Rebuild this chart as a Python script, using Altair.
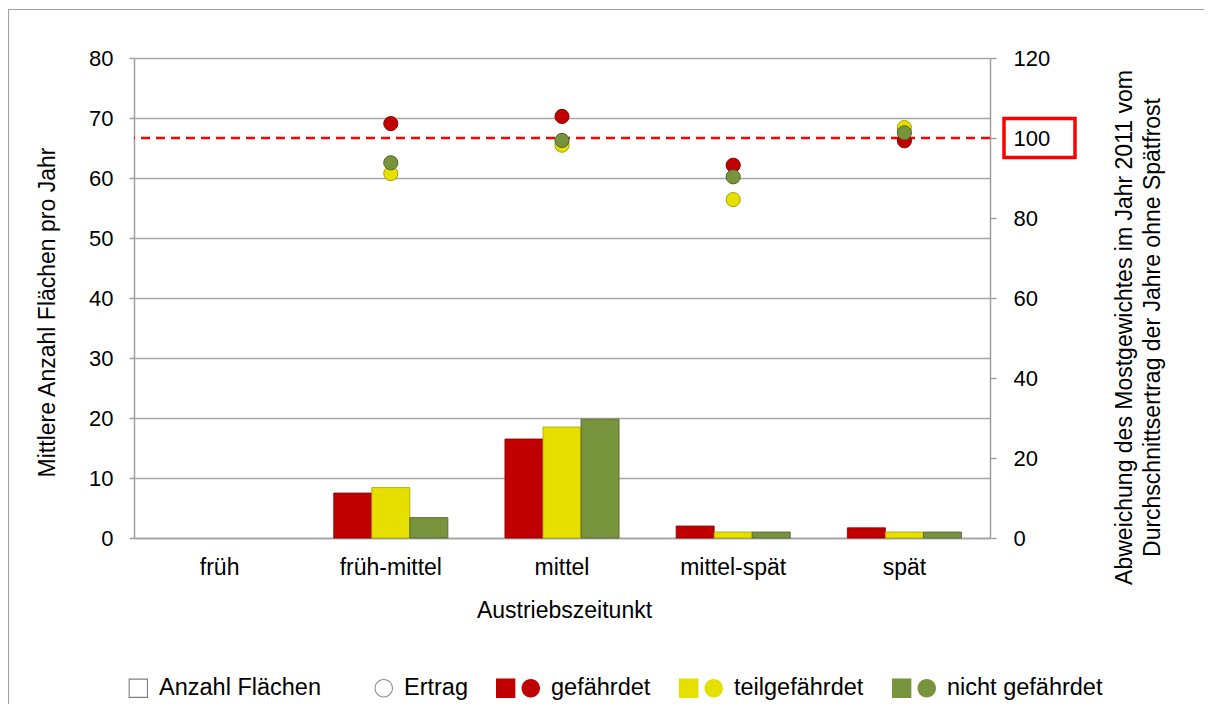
import altair as alt
import pandas as pd

# ---------------- data ----------------
kategorien = ["früh", "früh-mittel", "mittel", "mittel-spät", "spät"]
gruppen = ["gefährdet", "teilgefährdet", "nicht gefährdet"]

# Mittlere Anzahl Flächen pro Jahr (bars, left axis)
bar_kategorie = ["früh-mittel", "früh-mittel", "früh-mittel",
                 "mittel", "mittel", "mittel",
                 "mittel-spät", "mittel-spät", "mittel-spät",
                 "spät", "spät", "spät"]
bar_gruppe = ["gefährdet", "teilgefährdet", "nicht gefährdet"] * 4
bar_anzahl = [7.5, 8.4, 3.4,
              16.5, 18.5, 19.8,
              2.0, 1.0, 1.0,
              1.7, 1.0, 1.0]

# Ertrag / Mostgewicht (points, right axis) - drawn red, yellow, green
pt_kategorie = ["früh-mittel", "mittel", "mittel-spät", "spät"] * 3
pt_gruppe = (["gefährdet"] * 4) + (["teilgefährdet"] * 4) + (["nicht gefährdet"] * 4)
pt_wert = [103.6, 105.4, 93.2, 99.3,
           91.1, 98.2, 84.6, 102.6,
           93.8, 99.4, 90.3, 101.3]

referenz = [100]

legend_eintraege = ["Anzahl Flächen", "Ertrag", "gefährdet", "teilgefährdet", "nicht gefährdet"]

right_title = ["Abweichung des Mostgewichtes im Jahr 2011 vom",
               "Durchschnittsertrag der Jahre ohne Spätfrost"]

# ---------------- styles ----------------
FONT = "Liberation Sans"
GRAY = "#A0A0A0"
fill_colors = ["#C00000", "#E6E000", "#77933C"]
stroke_colors = ["#8B0000", "#A8A000", "#4F6228"]

# outline-only symbols drawn as filled rings (outer path + reversed inner path)
SQ_RING = ("M0.12,-0.44L1,-0.44L1,0.44L0.12,0.44Z"
           "M0.17,-0.39L0.17,0.39L0.95,0.39L0.95,-0.39Z")
CI_RING = ("M0.16,0A0.42,0.42 0 1,0 1,0A0.42,0.42 0 1,0 0.16,0Z"
           "M0.21,0A0.37,0.37 0 1,1 0.95,0A0.37,0.37 0 1,1 0.21,0Z")
COMBO = ("M-1,-0.44L-0.12,-0.44L-0.12,0.44L-1,0.44Z"
         "M0.16,0A0.42,0.42 0 1,0 1,0A0.42,0.42 0 1,0 0.16,0Z")
legend_shapes = [SQ_RING, CI_RING, COMBO, COMBO, COMBO]
legend_fills = ["#7F7F7F", "#8C8C8C"] + fill_colors

BOX = "M-1,-0.55L1,-0.55L1,0.55L-1,0.55Z"

W, H = 856, 480
PAD_R, PAD_B = 214, 166

bars_df = pd.DataFrame({"Kategorie": bar_kategorie, "Gruppe": bar_gruppe, "Anzahl": bar_anzahl})
pts_df = pd.DataFrame({"Kategorie": pt_kategorie, "Gruppe": pt_gruppe, "Wert": pt_wert})
ref_df = pd.DataFrame({"Wert": referenz})
leg_df = pd.DataFrame({"Eintrag": legend_eintraege})
frame_df = pd.DataFrame({"r": [0]})

x_scale = alt.Scale(domain=kategorien, paddingInner=1 / 3, paddingOuter=1 / 6)
y_right_scale = alt.Scale(domain=[0, 120])
fill_enc = alt.Fill("Gruppe:N", scale=alt.Scale(domain=gruppen, range=fill_colors), legend=None)
stroke_enc = alt.Stroke("Gruppe:N", scale=alt.Scale(domain=gruppen, range=stroke_colors), legend=None)

x_axis = alt.Axis(title="Austriebszeitunkt", labelAngle=0, ticks=False, tickSize=0,
                  labelPadding=18, labelBaseline="top", labelFontSize=23, labelFont=FONT,
                  labelColor="#000000", titleFontSize=23, titleFont=FONT, titleColor="#000000",
                  titleFontWeight="normal", titleX=430, titleY=72, titleAlign="center",
                  titleBaseline="middle", domainColor=GRAY, domainWidth=1.5, grid=False)

left_axis = alt.Axis(values=list(range(0, 81, 10)), orient="left", tickSize=5, tickColor=GRAY,
                     tickWidth=1.5, labelPadding=16, labelFontSize=22, labelFont=FONT,
                     labelColor="#000000", grid=True, gridColor="#A6A6A6", gridWidth=1.5,
                     domainColor=GRAY, domainWidth=1.5,
                     title="Mittlere Anzahl Flächen pro Jahr", titleFontSize=23, titleFont=FONT,
                     titleColor="#000000", titleFontWeight="normal", titleAngle=270,
                     titleX=-87, titleY=254, titleAlign="center", titleBaseline="middle")

right_axis = alt.Axis(values=list(range(0, 121, 20)), orient="right", tickSize=6, tickColor=GRAY,
                      tickWidth=1.5, labelPadding=17, labelFontSize=22, labelFont=FONT,
                      labelColor="#000000", grid=False, domainColor=GRAY, domainWidth=1.5,
                      title=right_title, titleFontSize=23, titleFont=FONT, titleColor="#000000",
                      titleFontWeight="normal", titleAngle=270, titleX=134, titleY=269,
                      titleAlign="center", titleBaseline="middle", titleLineHeight=28)

# chart-area frame (only left and top edges are visible in the picture)
frame_top = alt.Chart(frame_df).mark_rule(color=GRAY, strokeWidth=1.2).encode(
    x=alt.value(-125.5), x2=alt.value(W + PAD_R), y=alt.value(-48.5)
)
frame_left = alt.Chart(frame_df).mark_rule(color=GRAY, strokeWidth=1.2).encode(
    x=alt.value(-125.5), y=alt.value(-48.5), y2=alt.value(H + PAD_B)
)

bars = alt.Chart(bars_df).mark_bar(strokeWidth=0.8).encode(
    x=alt.X("Kategorie:N", scale=x_scale, axis=x_axis),
    xOffset=alt.XOffset("Gruppe:N", scale=alt.Scale(domain=gruppen, paddingInner=0, paddingOuter=0)),
    y=alt.Y("Anzahl:Q", scale=alt.Scale(domain=[0, 80]), axis=left_axis),
    fill=fill_enc,
    stroke=stroke_enc,
)

rule = alt.Chart(ref_df).mark_rule(color="#FF0000", strokeWidth=2.5, strokeDash=[9, 6]).encode(
    y=alt.Y("Wert:Q", scale=y_right_scale, axis=right_axis)
)

points = alt.Chart(pts_df).mark_point(filled=True, size=200, opacity=1, strokeWidth=1).encode(
    x=alt.X("Kategorie:N", scale=x_scale, axis=x_axis),
    y=alt.Y("Wert:Q", scale=y_right_scale, axis=right_axis),
    fill=fill_enc,
    stroke=stroke_enc,
)

box = alt.Chart(ref_df).mark_point(shape=BOX, size=5041, filled=False, stroke="#FF0000",
                                   strokeWidth=3.5, opacity=1).encode(
    x=alt.value(905.5),
    y=alt.Y("Wert:Q", scale=y_right_scale, axis=right_axis),
)

leg_props = dict(title=None, orient="none", legendX=-30, legendY=608, direction="horizontal",
                 columns=5, gridAlign="each", symbolSize=1936,
                 symbolStrokeColor="#7F7F7F", symbolStrokeWidth=0, symbolOpacity=1,
                 labelFontSize=23.5, labelFont=FONT, labelColor="#000000", labelOffset=11,
                 columnPadding=28, labelLimit=0, padding=0)

legend_layer = alt.Chart(leg_df).mark_point(filled=True, opacity=1, strokeWidth=0).encode(
    color=alt.Color("Eintrag:N", scale=alt.Scale(domain=legend_eintraege, range=legend_fills),
                    legend=alt.Legend(**leg_props)),
    shape=alt.Shape("Eintrag:N", scale=alt.Scale(domain=legend_eintraege, range=legend_shapes),
                    legend=alt.Legend(**leg_props)),
).transform_filter("false")

left = alt.layer(frame_top, frame_left, bars)
right = alt.layer(rule, points, box)

chart = alt.layer(left, right, legend_layer).resolve_scale(y="independent").properties(
    width=W, height=H,
    padding={"left": 126, "top": 50, "right": PAD_R, "bottom": PAD_B},
    autosize=alt.AutoSizeParams(type="none"),
    background="white",
).configure(font=FONT).configure_view(strokeWidth=0)

chart.save("out.html", embed_options={"renderer": "svg", "actions": False})
